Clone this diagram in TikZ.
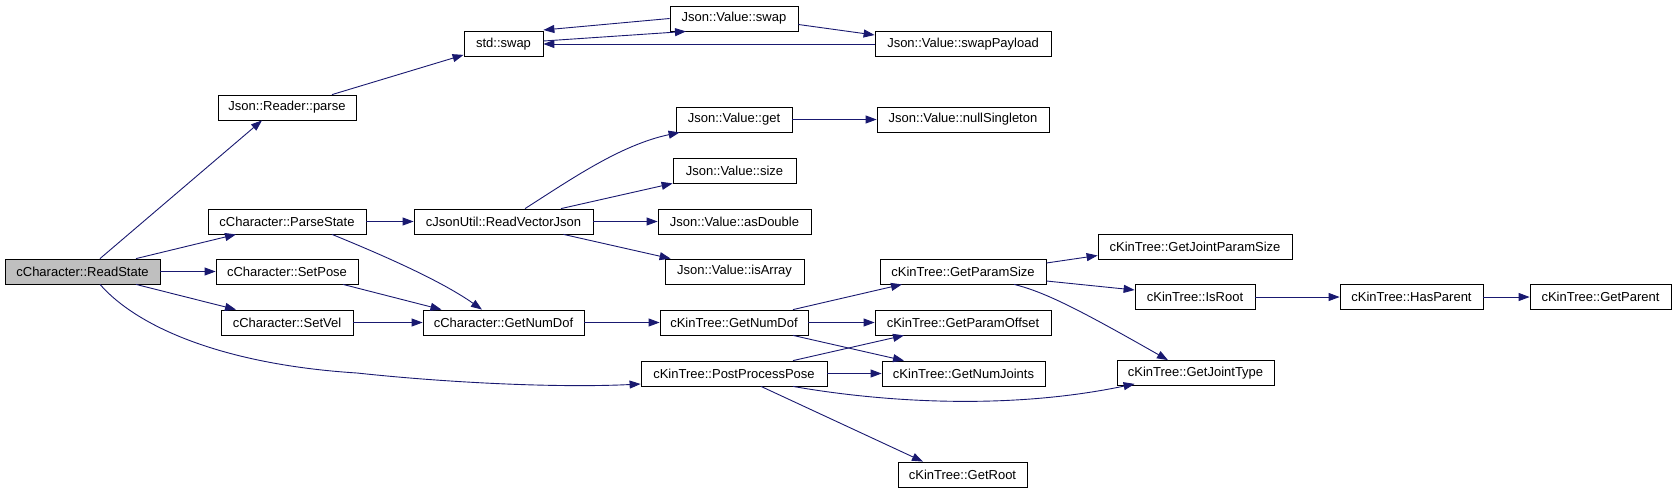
\documentclass[tikz,border=0pt]{standalone}
\usepackage{fontspec}
\setmainfont{Liberation Sans}
\usepackage{tikz}
\usetikzlibrary{arrows.meta}
\definecolor{callblue}{HTML}{191970}

\begin{document}
\begin{tikzpicture}[x=1pt,y=-1pt,
    fn/.style={draw,line width=0.8pt,fill=white,minimum height=25pt,inner sep=0pt,font=\fontsize{13}{15}\selectfont},
    call/.style={draw=callblue,line width=0.9pt,-{Triangle[length=11pt,width=8pt]}}]
  \useasboundingbox (0,0) rectangle (1676,493);
  \node[fn,fill=gray!50,minimum width=155pt] (readstate) at (82.5,271.5) {cCharacter::ReadState};
  \node[fn,minimum width=138pt] (readerparse) at (287,107.5) {Json::Reader::parse};
  \node[fn,minimum width=158pt] (parsestate) at (287,221.5) {cCharacter::ParseState};
  \node[fn,minimum width=142pt] (setpose) at (287,271.5) {cCharacter::SetPose};
  \node[fn,minimum width=132pt] (setvel) at (287,322.5) {cCharacter::SetVel};
  \node[fn,minimum width=79pt] (stdswap) at (503.5,44) {std::swap};
  \node[fn,minimum width=179pt] (readvec) at (503.5,221.5) {cJsonUtil::ReadVectorJson};
  \node[fn,minimum width=161pt] (chardof) at (503.5,322.5) {cCharacter::GetNumDof};
  \node[fn,minimum width=128pt] (valswap) at (734,18.5) {Json::Value::swap};
  \node[fn,minimum width=116pt] (valget) at (734,119.5) {Json::Value::get};
  \node[fn,minimum width=123pt] (valsize) at (734.5,170.5) {Json::Value::size};
  \node[fn,minimum width=153pt] (valdouble) at (734.5,221.5) {Json::Value::asDouble};
  \node[fn,minimum width=139pt] (valarray) at (734.5,271.5) {Json::Value::isArray};
  \node[fn,minimum width=148pt] (treedof) at (734,322.5) {cKinTree::GetNumDof};
  \node[fn,minimum width=186pt] (postpose) at (734,373.5) {cKinTree::PostProcessPose};
  \node[fn,minimum width=176pt] (swappay) at (963,44) {Json::Value::swapPayload};
  \node[fn,minimum width=172pt] (nullsing) at (963,119.5) {Json::Value::nullSingleton};
  \node[fn,minimum width=166pt] (paramsize) at (963,271.5) {cKinTree::GetParamSize};
  \node[fn,minimum width=176pt] (paramoff) at (963,322.5) {cKinTree::GetParamOffset};
  \node[fn,minimum width=163pt] (numjoints) at (963.5,373.5) {cKinTree::GetNumJoints};
  \node[fn,minimum width=129pt] (getroot) at (962.5,474.5) {cKinTree::GetRoot};
  \node[fn,minimum width=194pt] (jointparam) at (1195,246.5) {cKinTree::GetJointParamSize};
  \node[fn,minimum width=120pt] (isroot) at (1195,297) {cKinTree::IsRoot};
  \node[fn,minimum width=157pt] (jointtype) at (1195.5,373) {cKinTree::GetJointType};
  \node[fn,minimum width=143pt] (hasparent) at (1411.5,297) {cKinTree::HasParent};
  \node[fn,minimum width=141pt] (getparent) at (1600.5,297) {cKinTree::GetParent};

  \draw[call] ([xshift=17.5pt]readstate.north) -- ([xshift=-25pt]readerparse.south);
  \draw[call] ([xshift=53.5pt]readstate.north) -- ([xshift=-51pt]parsestate.south);
  \draw[call] (readstate) -- (setpose);
  \draw[call] ([xshift=53.5pt]readstate.south) -- ([xshift=-51pt]setvel.north);
  \draw[call] ([xshift=17.5pt]readstate.south) .. controls (140,330) and (230,365) .. (357,373)
    .. controls (450,383) and (560,388) .. ([yshift=-10.5pt]postpose.west);
  \draw[call] ([xshift=45pt]readerparse.north) -- ([yshift=2pt]stdswap.south west);
  \draw[call] ([yshift=3pt]stdswap.east) -- ([xshift=-48pt]valswap.south);
  \draw[call] (valswap.west) -- ([yshift=14pt]stdswap.east);
  \draw[call] ([yshift=-6pt]valswap.east) -- ([yshift=9pt]swappay.west);
  \draw[call] (swappay) -- (stdswap);
  \draw[call] (parsestate) -- (readvec);
  \draw[call] ([xshift=45pt]parsestate.south) .. controls (380,254) and (440,280) .. ([xshift=-21.5pt]chardof.north);
  \draw[call] ([xshift=56pt]setpose.south) -- ([xshift=-62pt]chardof.north);
  \draw[call] (setvel) -- (chardof);
  \draw[call] ([xshift=21.5pt]readvec.north) .. controls (570,180) and (620,145) .. ([xshift=4pt]valget.south west);
  \draw[call] ([xshift=57.5pt]readvec.north) -- (valsize.south west);
  \draw[call] (readvec) -- (valdouble);
  \draw[call] ([xshift=60pt]readvec.south) -- ([xshift=6pt]valarray.north west);
  \draw[call] (valget) -- (nullsing);
  \draw[call] (chardof) -- (treedof);
  \draw[call] ([xshift=59pt]treedof.north) -- ([xshift=-61pt]paramsize.south);
  \draw[call] (treedof) -- (paramoff);
  \draw[call] ([xshift=59pt]treedof.south) -- ([xshift=-59.5pt]numjoints.north);
  \draw[call] ([xshift=59pt]postpose.north) -- ([xshift=-59pt]paramoff.south);
  \draw[call] (postpose) -- (numjoints);
  \draw[call] ([xshift=59pt]postpose.south) .. controls (870,400) and (1000,412) .. ([xshift=18pt,yshift=2pt]jointtype.south west);
  \draw[call] ([xshift=27pt]postpose.south) -- ([xshift=-39.5pt]getroot.north);
  \draw[call] ([yshift=8.5pt]paramsize.east) -- ([yshift=-9pt]jointparam.west);
  \draw[call] ([yshift=-9.5pt]paramsize.east) -- ([yshift=7pt]isroot.west);
  \draw[call] ([xshift=51pt]paramsize.south) .. controls (1045,292) and (1080,310) .. ([xshift=-27.5pt]jointtype.north);
  \draw[call] (isroot) -- (hasparent);
  \draw[call] (hasparent) -- (getparent);
\end{tikzpicture}
\end{document}
